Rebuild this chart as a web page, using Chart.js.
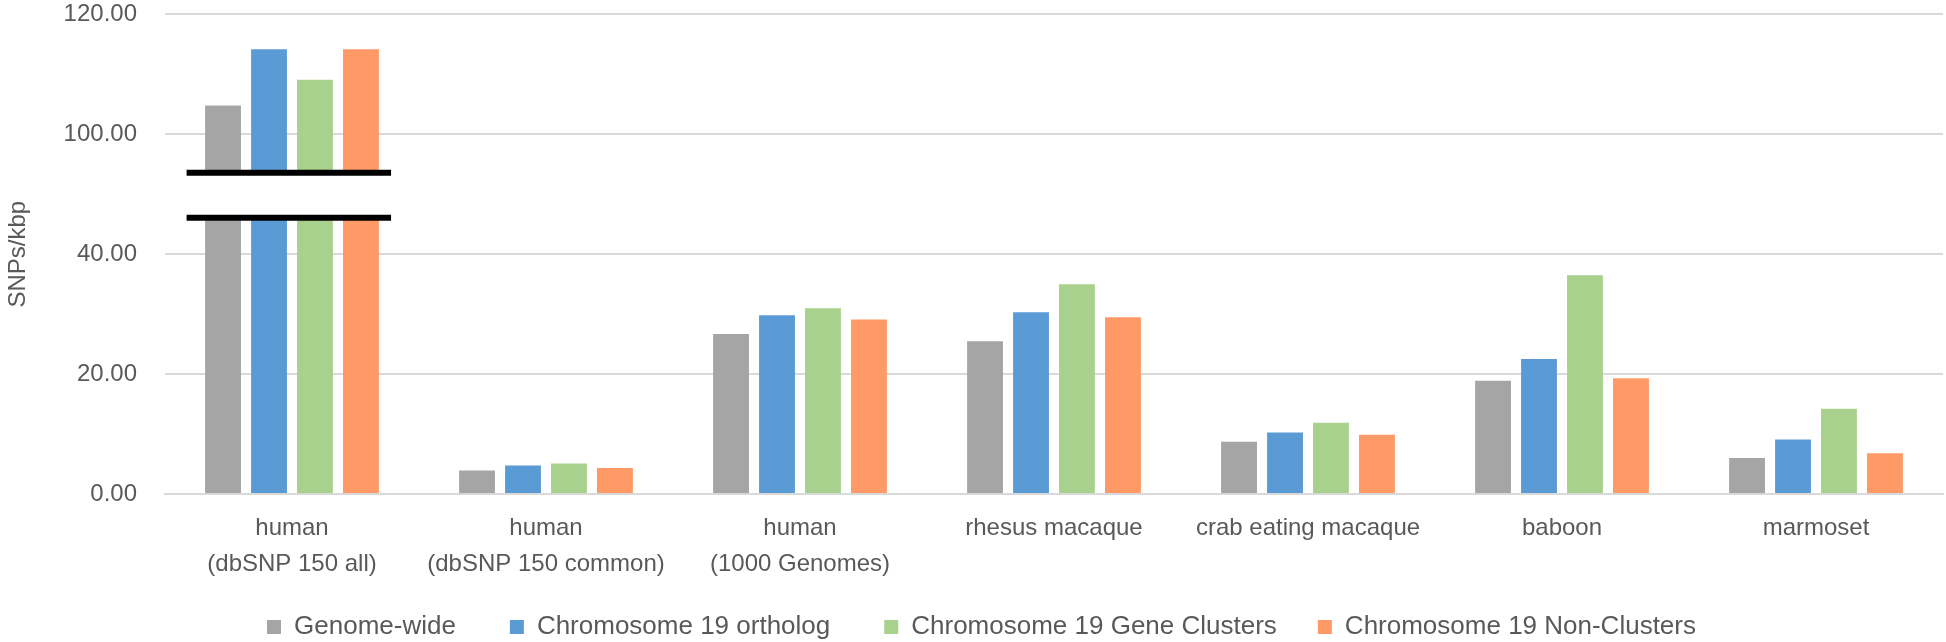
<!DOCTYPE html>
<html>
<head>
<meta charset="utf-8">
<script src="https://cdn.jsdelivr.net/npm/chart.js@4/dist/chart.umd.min.js"></script>
<style>
    html, body { margin: 0; padding: 0; background: #fff; }
    #wrap { width: 1946px; height: 642px; position: relative; }
</style>
</head>
<body>
<div id="wrap"><canvas id="snpChart"></canvas></div>
<script>
// Data (SNPs per kbp)
const categories = [
    ['human', '(dbSNP 150 all)'],
    ['human', '(dbSNP 150 common)'],
    ['human', '(1000 Genomes)'],
    'rhesus macaque',
    'crab eating macaque',
    'baboon',
    'marmoset'
];
const seriesNames    = ['Genome-wide', 'Chromosome 19 ortholog', 'Chromosome 19 Gene Clusters', 'Chromosome 19 Non-Clusters'];
const genomeWide     = [104.8, 3.9, 26.7, 25.5, 8.7, 18.9, 6.0];
const chr19Ortholog  = [114.2, 4.75, 29.8, 30.3, 10.25, 22.5, 9.1];
const chr19Clusters  = [109.1, 5.1, 31.0, 35.0, 11.9, 36.5, 14.2];
const chr19NonClust  = [114.2, 4.35, 29.1, 29.5, 9.9, 19.3, 6.8];

// broken axis: above 40 the axis jumps, position 60 reads 100
const breakAt = 40, shift = 40;
const toAxis = v => v > breakAt ? v - shift : v;
const fromAxis = v => v > breakAt ? v + shift : v;

const textColor = '#595959';
const fontFamily = "'Liberation Sans', Arial, sans-serif";
// extra gap after each legend entry (the last one needs none)
const legendGap = ['\u2002\u2002', '\u2002\u2002', '\u2002', ''];

// white gap + two thick lines over the first group
const axisBreak = {
    id: 'axisBreak',
    afterDatasetsDraw(chart) {
        const { ctx, scales: { x, y } } = chart;
        const cx = x.getPixelForValue(0);
        const cw = x.getPixelForValue(1) - cx;
        const yTop = y.getPixelForValue(53.6);
        const yBot = y.getPixelForValue(46.1);
        ctx.save();
        ctx.fillStyle = '#ffffff';
        ctx.fillRect(cx - cw * 0.37, yTop, cw * 0.74, yBot - yTop);
        ctx.strokeStyle = '#000000';
        ctx.lineWidth = 6;
        ctx.beginPath();
        ctx.moveTo(cx - cw * 0.415, yTop); ctx.lineTo(cx + cw * 0.39, yTop);
        ctx.moveTo(cx - cw * 0.415, yBot); ctx.lineTo(cx + cw * 0.39, yBot);
        ctx.stroke();
        ctx.restore();
    }
};

const mkSet = (label, values, color) => ({
    label,
    data: values.map(toAxis),
    backgroundColor: color,
    borderWidth: 0,
    categoryPercentage: 0.724,
    barPercentage: 0.78
});

new Chart(document.getElementById('snpChart'), {
    type: 'bar',
    data: {
        labels: categories,
        datasets: [
            mkSet(seriesNames[0], genomeWide, '#A5A5A5'),
            mkSet(seriesNames[1], chr19Ortholog, '#5B9BD5'),
            mkSet(seriesNames[2], chr19Clusters, '#A9D18E'),
            mkSet(seriesNames[3], chr19NonClust, '#FF9966')
        ]
    },
    options: {
        responsive: true,
        maintainAspectRatio: false,
        animation: false,
        layout: { padding: { top: 0, right: 3, left: 20, bottom: -8 } },
        plugins: {
            tooltip: { enabled: false },
            legend: {
                position: 'bottom',
                labels: {
                    color: textColor,
                    font: { family: fontFamily, size: 26 },
                    boxWidth: 14,
                    boxHeight: 14,
                    padding: 28,
                    generateLabels(chart) {
                        const items = Chart.defaults.plugins.legend.labels.generateLabels(chart);
                        items.forEach((it, i) => { it.text = it.text + legendGap[i]; });
                        return items;
                    }
                }
            }
        },
        scales: {
            x: {
                grid: { display: false, drawTicks: false },
                border: { color: '#D9D9D9', width: 2 },
                ticks: {
                    color: textColor,
                    font: { family: fontFamily, size: 24, lineHeight: 1.5 },
                    padding: 16,
                    maxRotation: 0,
                    autoSkip: false
                },
                afterFit: s => { s.height = 92; }
            },
            y: {
                min: 0,
                max: 80,
                // invisible tick marks give the gap between labels and plot
                grid: { color: '#D9D9D9', lineWidth: 2, drawTicks: true, tickLength: 28, tickColor: 'rgba(0,0,0,0)' },
                border: { display: false },
                ticks: {
                    stepSize: 20,
                    padding: 0,
                    color: textColor,
                    font: { family: fontFamily, size: 24 },
                    callback: v => fromAxis(v).toFixed(2)
                },
                title: {
                    display: true,
                    text: 'SNPs/kbp',
                    color: textColor,
                    font: { family: fontFamily, size: 24 },
                    padding: { top: -16, bottom: 3 }
                },
                afterFit: s => { s.width = 145; }
            }
        }
    },
    plugins: [axisBreak]
});
</script>
</body>
</html>
